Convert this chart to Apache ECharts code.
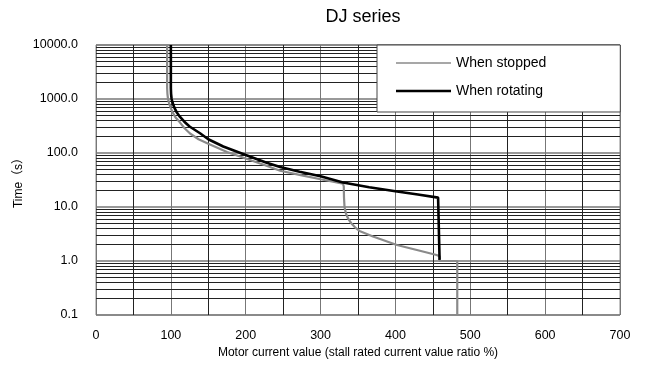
<!DOCTYPE html>
<html>
<head>
<meta charset="utf-8">
<script src="https://cdn.jsdelivr.net/npm/echarts@6/dist/echarts.min.js"></script>
<style>
  html, body { margin: 0; padding: 0; background: #fff; }
  #chart { width: 647px; height: 374px; }
</style>
</head>
<body>
<div id="chart"></div>
<script>
// motor current (%) and trip time (s)
const stoppedCurrent = [95, 95, 95.4, 96.2, 97.5, 99.5, 102, 106, 112, 118, 125.6, 137, 150, 175, 200, 225, 246, 275, 300, 330, 331, 331.3, 332, 334, 337, 341, 346, 352, 370, 402, 430, 455, 459, 459, 482.6, 482.6]
const stoppedTime = [10000, 1600, 1250, 1000, 850, 700, 580, 460, 370, 290, 230, 180, 148, 104, 79, 60, 47, 38.5, 32.6, 27, 24, 15, 10, 7.5, 6, 5, 4.2, 3.6, 2.85, 1.98, 1.58, 1.29, 1.22, 1.0, 1.0, 0.1]

const rotatingCurrent = [100, 100, 100.3, 101, 102.3, 104.5, 108, 112, 118, 125, 139, 150, 170, 200, 228, 246, 272, 300, 330, 365, 400, 430, 457, 459, 459]
const rotatingTime = [10000, 1600, 1250, 1000, 850, 700, 560, 470, 380, 310, 232, 180, 132, 92, 66, 55, 45, 37, 28.5, 23.3, 19.6, 17, 14.9, 14.8, 1.05]

const seriesNames = ['When stopped', 'When rotating']

// horizontal minor grid (2..9 of each decade)
const decades = [0.1, 1, 10, 100, 1000]
const minorSteps = [2, 3, 4, 5, 6, 7, 8, 9]
const minorTimes = []
decades.forEach(d => minorSteps.forEach(k => minorTimes.push(+(k * d).toPrecision(3))))

const toPairs = (xs, ys) => xs.map((x, i) => [x, ys[i]])

const font = '"Liberation Sans", Arial, "Noto Sans CJK JP", sans-serif'

const chart = echarts.init(document.getElementById('chart'))
const option = {
  animation: false,
  textStyle: { fontFamily: font },
  title: {
    text: 'DJ series',
    left: 358,
    textAlign: 'center',
    top: 3,
    textStyle: { fontFamily: font, fontSize: 18, fontWeight: 'normal', color: '#000' }
  },
  grid: {
    left: 96, right: 27, top: 45, bottom: 59,
    show: true, borderColor: '#888', borderWidth: 1
  },
  legend: {
    orient: 'vertical',
    left: 377,
    top: 45,
    padding: [11, 74, 14, 19],
    itemWidth: 55,
    itemHeight: 14,
    itemGap: 14,
    backgroundColor: '#fff',
    borderColor: '#444',
    borderWidth: 1,
    z: 6,
    textStyle: { fontFamily: font, fontSize: 14, color: '#000' },
    data: [
      { name: seriesNames[0], icon: 'path://M0,0h55v1.3h-55z', itemStyle: { color: '#8a8a8a', borderWidth: 0 } },
      { name: seriesNames[1], icon: 'path://M0,0h55v2.6h-55z', itemStyle: { color: '#000', borderWidth: 0 } }
    ]
  },
  xAxis: {
    type: 'value',
    min: 0, max: 700, interval: 100,
    name: 'Motor current value (stall rated current value ratio %)',
    nameLocation: 'middle',
    nameGap: 32,
    nameTextStyle: { fontFamily: font, fontSize: 12, color: '#000' },
    axisLine: { show: false },
    axisTick: { show: false },
    axisLabel: { margin: 14, fontSize: 12.5, color: '#000', fontFamily: font },
    splitLine: { show: true, lineStyle: { color: '#777', width: 1 } },
    minorTick: { show: false, splitNumber: 2 },
    minorSplitLine: { show: true, lineStyle: { color: '#222', width: 1 } }
  },
  yAxis: {
    type: 'log',
    logBase: 10,
    min: 0.1, max: 10000,
    name: 'Time（s）',
    nameLocation: 'middle',
    nameGap: 71,
    nameMoveOverlap: false,
    nameTextStyle: { fontFamily: font, fontSize: 12, color: '#000' },
    axisLine: { show: false },
    axisTick: { show: false },
    axisLabel: {
      margin: 18, fontSize: 12.5, color: '#000', fontFamily: font,
      formatter: v => Number(v).toFixed(1)
    },
    splitLine: { show: true, lineStyle: { color: '#777', width: 1.5 } }
  },
  series: [
    {
      name: seriesNames[0],
      type: 'line',
      symbol: 'none',
      z: 3,
      lineStyle: { color: '#8a8a8a', width: 2.2 },
      itemStyle: { color: '#8a8a8a' },
      data: toPairs(stoppedCurrent, stoppedTime),
      markLine: {
        silent: true,
        z: 1,
        symbol: ['none', 'none'],
        label: { show: false },
        lineStyle: { color: '#222', width: 1, type: 'solid' },
        emphasis: { disabled: true },
        data: minorTimes.map(v => ({ yAxis: v }))
      }
    },
    {
      name: seriesNames[1],
      type: 'line',
      symbol: 'none',
      z: 4,
      lineStyle: { color: '#000', width: 2.6 },
      itemStyle: { color: '#000' },
      data: toPairs(rotatingCurrent, rotatingTime)
    }
  ]
}
chart.setOption(option)
</script>
</body>
</html>
